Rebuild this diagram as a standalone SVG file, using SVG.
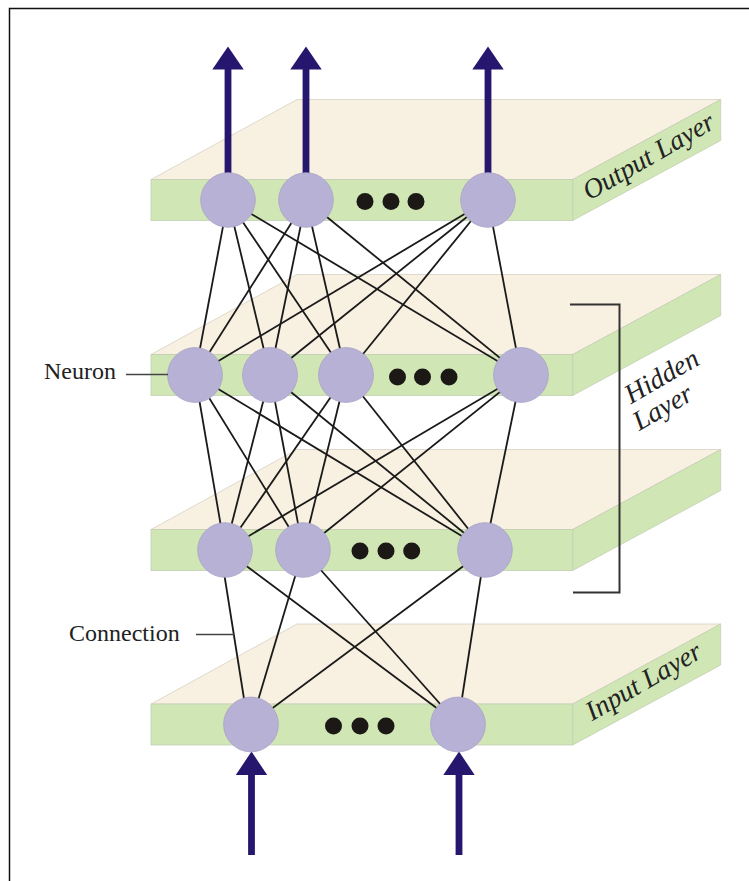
<svg xmlns="http://www.w3.org/2000/svg" xmlns:xlink="http://www.w3.org/1999/xlink" width="749" height="881" viewBox="0 0 749 881">
<style>
.top{fill:#f8f0e0;stroke:#d6d2c4;stroke-width:0.8}
.face{fill:#d0e6b5;stroke:#c3cfb3;stroke-width:0.8}
.n{fill:#b7b2d5;stroke:#a7a1c6;stroke-width:0.8}
.dot{fill:#1c1816}
.c line{stroke:#1a1a1a;stroke-width:1.8}
.arr{fill:#26166e}
.lbl{font-family:"Liberation Serif","Times New Roman",serif;font-size:24px;fill:#222}
.il{font-family:"Liberation Serif","Times New Roman",serif;font-size:27.5px;font-style:italic;fill:#222;text-anchor:middle}
.lead{stroke:#444;stroke-width:1.3}
</style>
<defs>
<g id="slab">
<path class="top" d="M151,0 L297,-80 L720.7,-80 L572.7,0 Z"/>
<path class="face" d="M572.7,0 L720.7,-80 L720.7,-39 L572.7,41 Z"/>
<rect class="face" x="151" y="0" width="421.7" height="41"/>
</g>
</defs>
<rect x="0" y="0" width="749" height="881" fill="#fff"/>
<path d="M9.5,881 V8.5 H749" fill="none" stroke="#111" stroke-width="1.5"/>
<g id="layers">
<use id="layer-output" xlink:href="#slab" transform="translate(0,179.5)"/>
<use id="layer-hidden1" xlink:href="#slab" transform="translate(0,354.5)"/>
<use id="layer-hidden2" xlink:href="#slab" transform="translate(0,529.5)"/>
<use id="layer-input" xlink:href="#slab" transform="translate(0,704)"/>
</g>
<g id="connectors" class="c">
<line x1="228" y1="200" x2="195" y2="375"/><line x1="228" y1="200" x2="270" y2="375"/><line x1="228" y1="200" x2="346" y2="375"/><line x1="228" y1="200" x2="521" y2="375"/>
<line x1="306" y1="200" x2="195" y2="375"/><line x1="306" y1="200" x2="270" y2="375"/><line x1="306" y1="200" x2="346" y2="375"/><line x1="306" y1="200" x2="521" y2="375"/>
<line x1="488" y1="200" x2="195" y2="375"/><line x1="488" y1="200" x2="270" y2="375"/><line x1="488" y1="200" x2="346" y2="375"/><line x1="488" y1="200" x2="521" y2="375"/>
<line x1="195" y1="375" x2="225" y2="550"/><line x1="195" y1="375" x2="303" y2="550"/><line x1="195" y1="375" x2="485" y2="550"/>
<line x1="270" y1="375" x2="225" y2="550"/><line x1="270" y1="375" x2="303" y2="550"/><line x1="270" y1="375" x2="485" y2="550"/>
<line x1="346" y1="375" x2="225" y2="550"/><line x1="346" y1="375" x2="303" y2="550"/><line x1="346" y1="375" x2="485" y2="550"/>
<line x1="521" y1="375" x2="225" y2="550"/><line x1="521" y1="375" x2="303" y2="550"/><line x1="521" y1="375" x2="485" y2="550"/>
<line x1="222" y1="560" x2="248" y2="724"/><line x1="303" y1="550" x2="251" y2="724"/><line x1="485" y1="550" x2="251" y2="724"/>
<line x1="225" y1="550" x2="458" y2="724"/><line x1="303" y1="550" x2="458" y2="724"/><line x1="485" y1="550" x2="458" y2="724"/>
</g>
<g id="output-arrows" class="arr">
<rect x="224.6" y="68" width="6.8" height="110"/><path d="M212.3,69.5 L228,46.5 L243.7,69.5 Z"/>
<rect x="302.6" y="68" width="6.8" height="110"/><path d="M290.3,69.5 L306,46.5 L321.7,69.5 Z"/>
<rect x="484.6" y="68" width="6.8" height="110"/><path d="M472.3,69.5 L488,46.5 L503.7,69.5 Z"/>
</g>
<g id="input-arrows" class="arr">
<rect x="248.1" y="772" width="6.8" height="83"/><path d="M235.8,775 L251.5,751.5 L267.2,775 Z"/>
<rect x="455.6" y="772" width="6.8" height="83"/><path d="M443.3,775 L459,751.5 L474.7,775 Z"/>
</g>
<g id="output-neurons">
<g id="o1"><circle class="n" cx="228" cy="200" r="27.3"/></g>
<g id="o2"><circle class="n" cx="306" cy="200" r="27.3"/></g>
<g id="o3"><circle class="n" cx="488" cy="200" r="27.3"/></g>
<g id="o-dots"><circle class="dot" cx="365" cy="201.5" r="8.5"/><circle class="dot" cx="391" cy="201.5" r="8.5"/><circle class="dot" cx="416" cy="201.5" r="8.5"/></g>
</g>
<g id="hidden1-neurons">
<g id="h1a"><circle class="n" cx="195" cy="375" r="27.4"/></g>
<g id="h1b"><circle class="n" cx="270" cy="375" r="27.4"/></g>
<g id="h1c"><circle class="n" cx="346" cy="375" r="27.4"/></g>
<g id="h1d"><circle class="n" cx="521" cy="375" r="27.4"/></g>
<g id="h1-dots"><circle class="dot" cx="397.5" cy="377" r="8.5"/><circle class="dot" cx="422.5" cy="377" r="8.5"/><circle class="dot" cx="449" cy="377" r="8.5"/></g>
</g>
<g id="hidden2-neurons">
<g id="h2a"><circle class="n" cx="225" cy="550" r="27.3"/></g>
<g id="h2b"><circle class="n" cx="303" cy="550" r="27.3"/></g>
<g id="h2c"><circle class="n" cx="485" cy="550" r="27.3"/></g>
<g id="h2-dots"><circle class="dot" cx="360" cy="551" r="8.5"/><circle class="dot" cx="386" cy="551" r="8.5"/><circle class="dot" cx="411.7" cy="551" r="8.5"/></g>
</g>
<g id="input-neurons">
<g id="i1"><circle class="n" cx="251" cy="724.5" r="27.4"/></g>
<g id="i2"><circle class="n" cx="458" cy="724.5" r="27.4"/></g>
<g id="i-dots"><circle class="dot" cx="333.5" cy="726" r="8.5"/><circle class="dot" cx="360" cy="726" r="8.5"/><circle class="dot" cx="386" cy="726" r="8.5"/></g>
</g>
<g id="labels">
<text class="il" transform="translate(653,164) rotate(-30)">Output Layer</text>
<text class="il" transform="translate(648,689) rotate(-30)">Input Layer</text>
<text class="il" transform="translate(666,384) rotate(-30)">Hidden</text>
<text class="il" transform="translate(667,415) rotate(-30)">Layer</text>
<text class="lbl" x="44" y="379">Neuron</text>
<line class="lead" x1="126" y1="374.5" x2="168" y2="374.5"/>
<text class="lbl" x="69" y="641">Connection</text>
<line class="lead" x1="196" y1="634.5" x2="234" y2="634.5"/>
</g>
<path id="hidden-bracket" d="M570,304.5 H619.5 V592.5 H573" fill="none" stroke="#333" stroke-width="2"/>
</svg>
